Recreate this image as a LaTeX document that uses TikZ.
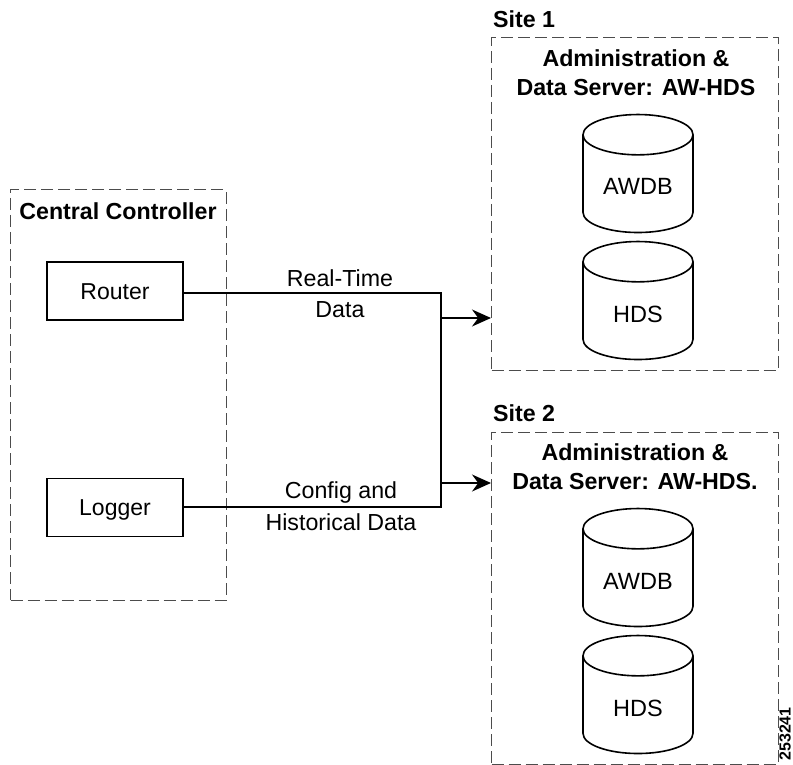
\documentclass[tikz,border=0pt]{standalone}
\usepackage{fontspec}
\setmainfont{Liberation Sans}
\usetikzlibrary{arrows.meta,shapes.geometric}
\tikzset{
	groupbox/.style={draw=black!70, line width=1pt, dash pattern=on 12pt off 5pt, inner sep=0pt},
	boxnode/.style={draw, line width=1.6pt, minimum width=136pt, minimum height=58pt, inner sep=0pt, text height=16.5pt, text depth=0pt, font=\fontsize{23}{26}\selectfont},
	dbnode/.style={draw, line width=1.6pt, cylinder, shape border rotate=90, aspect=0.56, minimum width=110pt, minimum height=118pt, inner sep=0pt, text width=72pt, align=center, text height=22pt, text depth=0pt, font=\fontsize{23.5}{26}\selectfont},
	titletext/.style={inner sep=0pt, align=center, font=\fontsize{23.2}{29}\selectfont\bfseries},
	linetext/.style={inner sep=0pt, align=center, font=\fontsize{23.2}{31.5}\selectfont},
	arrowline/.style={line width=1.3pt, -{Stealth[length=19pt,width=17pt]}}
}
\begin{document}
\begin{tikzpicture}[x=1pt, y=-1pt]
	\useasboundingbox (0,0) rectangle (793,765);

	%central controller
	\node[groupbox, minimum width=215.5pt, minimum height=410.5pt] (central) at (118.25,394.75) {};
	\node[titletext] (central title) at (118,211) {Central Controller};
	\node[boxnode] (router) at (115,291) {Router};
	\node[boxnode] (logger) at (115,507.5) {Logger};

	%site 1
	\node[titletext, anchor=west] (site1 title) at (493,19) {Site 1};
	\node[groupbox, minimum width=286.5pt, minimum height=332pt] (site1) at (634.75,204) {};
	\node[titletext] (site1 server) at (636,72.5) {Administration \&\\Data Server: AW-HDS};
	\node[dbnode] (site1 awdb) at (638,184) {AWDB};
	\node[dbnode] (site1 hds) at (638,311) {HDS};

	%site 2
	\node[titletext, anchor=west] (site2 title) at (493,413) {Site 2};
	\node[groupbox, minimum width=286.5pt, minimum height=332pt] (site2) at (634.75,598) {};
	\node[titletext] (site2 server) at (635,466.5) {Administration \&\\Data Server: AW-HDS.};
	\node[dbnode] (site2 awdb) at (638,578) {AWDB};
	\node[dbnode] (site2 hds) at (638,705) {HDS};

	%links
	\coordinate (top corner) at (441,293);
	\coordinate (bottom corner) at (441,507);
	\coordinate (site1 branch) at (441,318);
	\coordinate (site2 branch) at (441,483);
	\draw[line width=1.3pt] (top corner -| router.east) -- (top corner) -- (bottom corner) -- (bottom corner -| logger.east);
	\draw[arrowline] (site1 branch) -- (site1 branch -| site1.west);
	\draw[arrowline] (site2 branch) -- (site2 branch -| site2.west);
	\node[linetext] (realtime label) at (340,293.5) {Real-Time\\Data};
	\node[linetext] (config label) at (341,506) {Config and\\Historical Data};

	%figure number
	\node[rotate=90, anchor=east, inner sep=0pt, font=\fontsize{16}{20}\selectfont\bfseries] (figure number) at (785,707) {253241};
\end{tikzpicture}
\end{document}
